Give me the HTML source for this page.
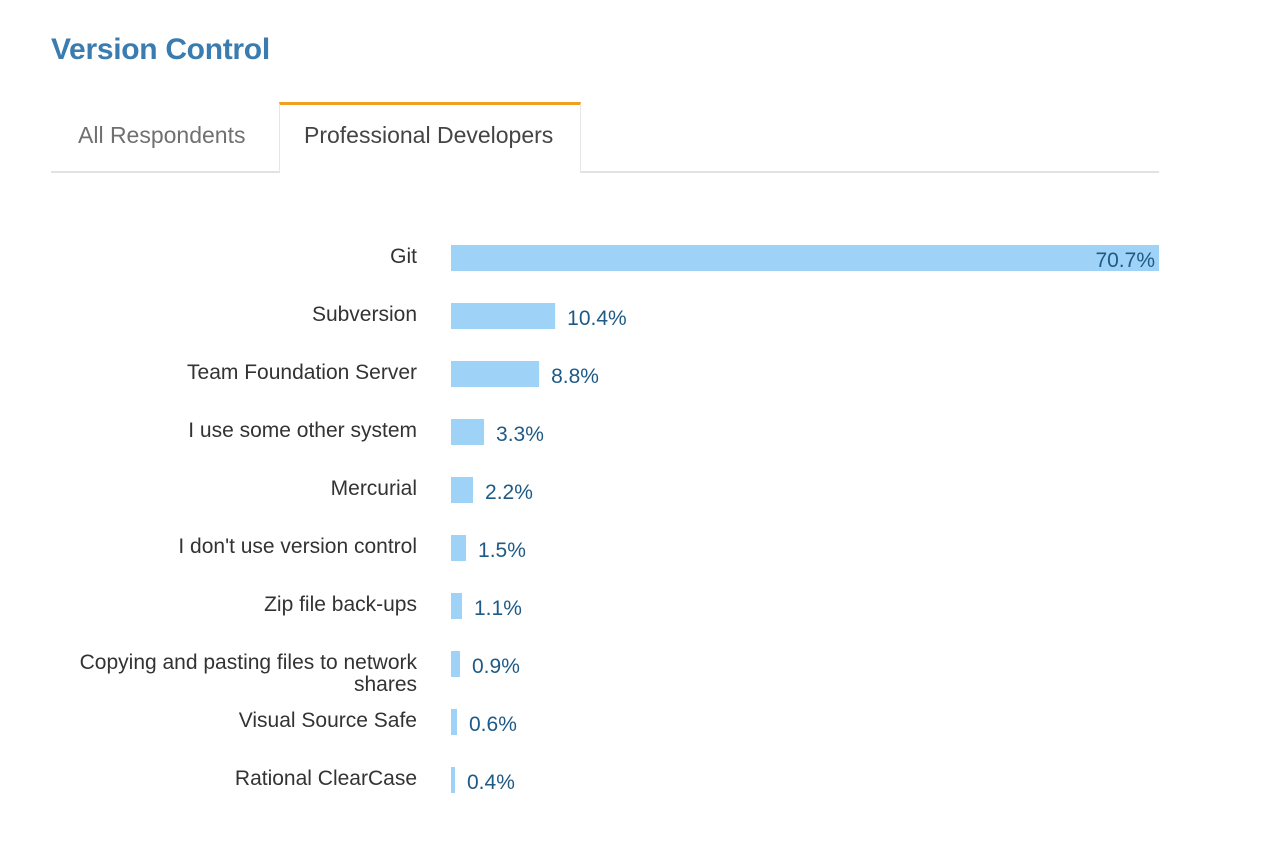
<!DOCTYPE html>
<html><head><meta charset="utf-8">
<style>
html,body{margin:0;padding:0;background:#fff;}
body{width:1280px;height:848px;position:relative;overflow:hidden;font-family:"Liberation Sans",sans-serif;}
#title{position:absolute;left:51px;top:33px;font-size:30px;font-weight:bold;color:#3a7bb0;margin:0;letter-spacing:-0.3px;}
.tab{position:absolute;font-size:23px;color:#707070;}
#tab-line{position:absolute;left:51px;top:171px;width:1108px;height:2px;background:#e2e2e2;}
#tab-active{position:absolute;left:279px;top:102px;width:302px;height:71px;background:#fff;border-top:3px solid #f0a020;border-left:1px solid #e6e6e6;border-right:1px solid #e6e6e6;box-sizing:border-box;}
svg{position:absolute;left:0;top:0;}
</style></head><body>
<h1 id="title">Version Control</h1>
<div id="tab-line"></div>
<div class="tab" style="left:78px;top:122px;">All Respondents</div>
<div id="tab-active"><div style="position:absolute;left:24px;top:17px;font-size:23px;color:#444;">Professional Developers</div></div>
<svg id="chart" width="1280" height="848"></svg>
<script>
const categories=["Git","Subversion","Team Foundation Server","I use some other system","Mercurial","I don't use version control","Zip file back-ups","Copying and pasting files to network shares","Visual Source Safe","Rational ClearCase"];
const values=[70.7,10.4,8.8,3.3,2.2,1.5,1.1,0.9,0.6,0.4];
const valueLabels=["70.7%","10.4%","8.8%","3.3%","2.2%","1.5%","1.1%","0.9%","0.6%","0.4%"];
const X0=451, XMAX=70.7, XW=708;
function xScale(v){return X0+v/XMAX*XW;}
function yScale(i){return 245+i*58;}
const svg=document.getElementById('chart');
const NS='http://www.w3.org/2000/svg';
categories.forEach((c,i)=>{
  const y=yScale(i), x1=xScale(values[i]);
  const r=document.createElementNS(NS,'rect');
  r.setAttribute('x',X0);r.setAttribute('y',y);
  r.setAttribute('width',Math.max(3,x1-X0));r.setAttribute('height',26);
  r.setAttribute('fill','#9fd2f7');
  
  
  svg.appendChild(r);
  const lines=c.length>40?["Copying and pasting files to network","shares"]:[c];
  const t=document.createElementNS(NS,'text');
  t.setAttribute('x',417);t.setAttribute('y',y+18);
  t.setAttribute('text-anchor','end');t.setAttribute('font-size','21');t.setAttribute('fill','#333');
  t.setAttribute('font-family','Liberation Sans, sans-serif');
  
  
  lines.forEach((l,k)=>{const ts=document.createElementNS(NS,'tspan');ts.setAttribute('x',417);ts.setAttribute('dy',k?22:0);ts.textContent=l;t.appendChild(ts);});
  svg.appendChild(t);
  const v=document.createElementNS(NS,'text');
  const inside=values[i]>50;
  v.setAttribute('x',inside?x1-4:x1+12);v.setAttribute('y',y+22);
  v.setAttribute('text-anchor',inside?'end':'start');
  v.setAttribute('font-size','21');v.setAttribute('fill','#1e5a86');
  v.setAttribute('font-family','Liberation Sans, sans-serif');
  
  
  v.textContent=valueLabels[i];
  svg.appendChild(v);
});
</script>
</body></html>
